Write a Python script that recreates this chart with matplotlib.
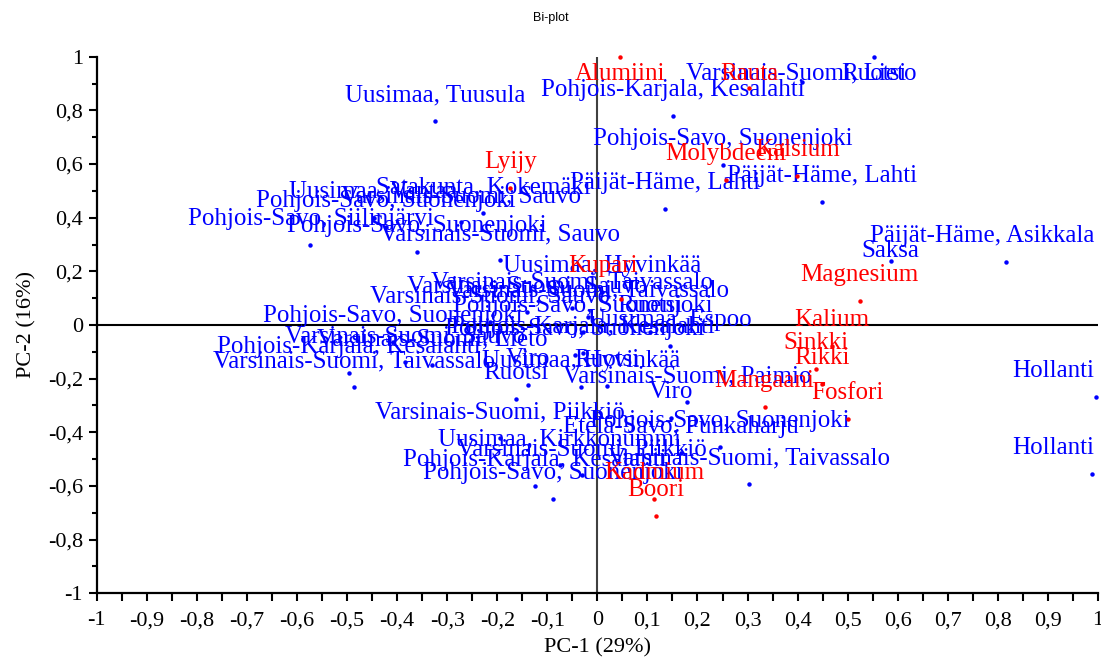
import matplotlib
matplotlib.use("Agg")
import matplotlib.pyplot as plt
from matplotlib.ticker import MultipleLocator, FuncFormatter

# ---------------- data ----------------
var_names = ["Alumiini", "Rauta", "Molybdeeni", "Kalsium", "Lyijy", "Kupari",
             "Magnesium", "Kalium", "Sinkki", "Rikki", "Mangaani", "Fosfori",
             "Kadmium", "Boori"]
var_pc1 = [0.045, 0.303, 0.257, 0.399, -0.174, 0.047,
           0.524, 0.468, 0.436, 0.448, 0.334, 0.500,
           0.113, 0.117]
var_pc2 = [1.000, 0.883, 0.540, 0.555, 0.511, 0.097,
           0.089, -0.078, -0.164, -0.220, -0.306, -0.350,
           -0.649, -0.712]

obs_names = [
    "Varsinais-Suomi, Lieto", "Ruotsi", "Uusimaa, Tuusula",
    "Pohjois-Karjala, Kesalahti", "Pohjois-Savo, Suonenjoki",
    "Päijät-Häme, Lahti", "Päijät-Häme, Lahti", "Päijät-Häme, Asikkala",
    "Saksa", "Hollanti", "Hollanti",
    "Satakunta, Kokemäki", "Uusimaa, Vantaa", "Varsinais-Suomi, Sauvo",
    "Pohjois-Savo, Suonenjoki", "Pohjois-Savo, Siilinjärvi",
    "Pohjois-Savo, Suonenjoki", "Varsinais-Suomi, Sauvo",
    "Uusimaa, Hyvinkää", "Varsinais-Suomi, Sauvo",
    "Varsinais-Suomi, Taivassalo", "Varsinais-Suomi, Sauvo",
    "Varsinais-Suomi, Taivassalo", "Pohjois-Savo, Suonenjoki", "Ruotsi",
    "Pohjois-Savo, Suonenjoki", "Uusimaa, Espoo",
    "Pohjois-Karjala, Kesalahti", "Pohjois-Savo, Suonenjoki",
    "Varsinais-Suomi, Sauvo", "Varsinais-Suomi, Lieto",
    "Pohjois-Karjala, Kesalahti", "Varsinais-Suomi, Taivassalo",
    "Uusimaa, Hyvinkää", "Viro", "Ruotsi", "Ruotsi",
    "Varsinais-Suomi, Paimio", "Viro",
    "Varsinais-Suomi, Piikkiö", "Pohjois-Savo, Suonenjoki",
    "Etelä-Savo, Punkaharju", "Uusimaa, Kirkkonummi",
    "Varsinais-Suomi, Piikkiö", "Varsinais-Suomi, Taivassalo",
    "Pohjois-Karjala, Kesalahti", "Pohjois-Savo, Suonenjoki",
]
obs_pc1 = [0.408, 0.552, -0.324,
           0.151, 0.251,
           0.135, 0.448, 0.816,
           0.586, 0.997, 0.989,
           -0.228, -0.447, -0.273,
           -0.422, -0.573,
           -0.361, -0.194,
           0.010, -0.140,
           -0.050, -0.214,
           -0.019, -0.029, 0.105,
           -0.408, 0.145,
           -0.029, -0.045,
           -0.385, -0.330,
           -0.496, -0.486,
           -0.032, -0.138, 0.019, -0.162,
           0.179, 0.147,
           -0.194, 0.245,
           0.167, -0.075,
           -0.031, 0.303,
           -0.124, -0.088]
obs_pc2 = [0.906, 1.000, 0.760,
           0.779, 0.597,
           0.432, 0.458, 0.235,
           0.239, -0.268, -0.555,
           0.417, 0.399, 0.384,
           0.365, 0.298,
           0.272, 0.242,
           0.123, 0.048,
           0.063, 0.011,
           0.030, -0.026, -0.026,
           -0.063, -0.078,
           -0.104, -0.112,
           -0.138, -0.149,
           -0.179, -0.231,
           -0.231, -0.224, -0.227, -0.276,
           -0.287, -0.347,
           -0.421, -0.455,
           -0.477, -0.522,
           -0.559, -0.593,
           -0.600, -0.649]

title = "Bi-plot"
x_label = "PC-1 (29%)"
y_label = "PC-2 (16%)"

# ---------------- styling ----------------
SERIF = ["Liberation Serif", "DejaVu Serif"]
BLUE = "#0000FF"
RED = "#FF0000"
LABEL_SIZE = 18
TICK_SIZE = 16
DEFAULT_OFFSET = (0, 20)          # label baseline offset above point (pixels)
OFFSET_OVERRIDES = {"Saksa": (0, 4), "Kupari": (-18, 27)}

W, H = 1101, 660
fig = plt.figure(figsize=(W / 100, H / 100), dpi=100)
ax = fig.add_axes([96.7 / W, 1 - 593.3 / H, (1098 - 96.7) / W, (593.3 - 56.7) / H])
ax.set_xlim(-1, 1)
ax.set_ylim(-1, 1)

for s in ("top", "right"):
    ax.spines[s].set_visible(False)
for s in ("left", "bottom"):
    ax.spines[s].set_linewidth(1.6)
    ax.spines[s].set_color("black")


def fmt(v, pos):
    if abs(v - round(v)) < 1e-9:
        return str(int(round(v)))
    return f"{v:.1f}".replace(".", ",")


ax.xaxis.set_major_locator(MultipleLocator(0.1))
ax.xaxis.set_minor_locator(MultipleLocator(0.05))
ax.yaxis.set_major_locator(MultipleLocator(0.2))
ax.yaxis.set_minor_locator(MultipleLocator(0.1))
ax.xaxis.set_major_formatter(FuncFormatter(fmt))
ax.yaxis.set_major_formatter(FuncFormatter(fmt))
ax.tick_params(axis="x", which="major", direction="out", length=6, width=1.5, pad=7)
ax.tick_params(axis="x", which="minor", direction="out", length=6, width=1.5)
ax.tick_params(axis="y", which="major", direction="out", length=6, width=1.5, pad=4)
ax.tick_params(axis="y", which="minor", direction="out", length=3.5, width=1.5)
for lab in ax.get_xticklabels() + ax.get_yticklabels():
    lab.set_fontfamily(SERIF)
    lab.set_fontsize(TICK_SIZE)

ax.axhline(0, color="black", lw=1.5, zorder=1)
ax.axvline(0, color="#404040", lw=1.5, zorder=1)

ax.plot(obs_pc1, obs_pc2, "o", color=BLUE, ms=3.2, mec="none", clip_on=False, zorder=3)
ax.plot(var_pc1, var_pc2, "o", color=RED, ms=3.2, mec="none", clip_on=False, zorder=5)

anns = []
for name, x, y in zip(obs_names, obs_pc1, obs_pc2):
    off = OFFSET_OVERRIDES.get(name, DEFAULT_OFFSET)
    a = ax.annotate(name, (x, y), xytext=off, textcoords="offset pixels",
                    ha="center", va="baseline", color=BLUE,
                    fontsize=LABEL_SIZE, family=SERIF, zorder=4,
                    annotation_clip=False)
    anns.append(a)
for name, x, y in zip(var_names, var_pc1, var_pc2):
    off = OFFSET_OVERRIDES.get(name, DEFAULT_OFFSET)
    a = ax.annotate(name, (x, y), xytext=off, textcoords="offset pixels",
                    ha="center", va="baseline", color=RED,
                    fontsize=LABEL_SIZE, family=SERIF, zorder=6,
                    annotation_clip=False)
    anns.append(a)

fig.text(0.5, 1 - 18 / H, title, ha="center", va="center", fontsize=9,
         family=["Liberation Sans", "DejaVu Sans"])
fig.text(597 / W, 1 - 648 / H, x_label, ha="center", va="center",
         fontsize=TICK_SIZE, family=SERIF)
fig.text(27 / W, 1 - 325 / H, y_label, ha="center", va="center",
         rotation=90, fontsize=TICK_SIZE, family=SERIF)

# keep labels inside the plotting area
fig.canvas.draw()
renderer = fig.canvas.get_renderer()
axbb = ax.get_window_extent(renderer)
m_side = 4
m_top = 6
for a in anns:
    bb = a.get_window_extent(renderer)
    dx, dy = a.xyann
    sx = 0
    if bb.x1 > axbb.x1 - m_side:
        sx = (axbb.x1 - m_side) - bb.x1
    if bb.x0 < axbb.x0 + m_side:
        sx = (axbb.x0 + m_side) - bb.x0
    sy = 0
    if bb.y1 > axbb.y1 - m_top:
        sy = (axbb.y1 - m_top) - bb.y1
    a.xyann = (dx + sx, dy + sy)

fig.savefig("out.png", dpi=100)
